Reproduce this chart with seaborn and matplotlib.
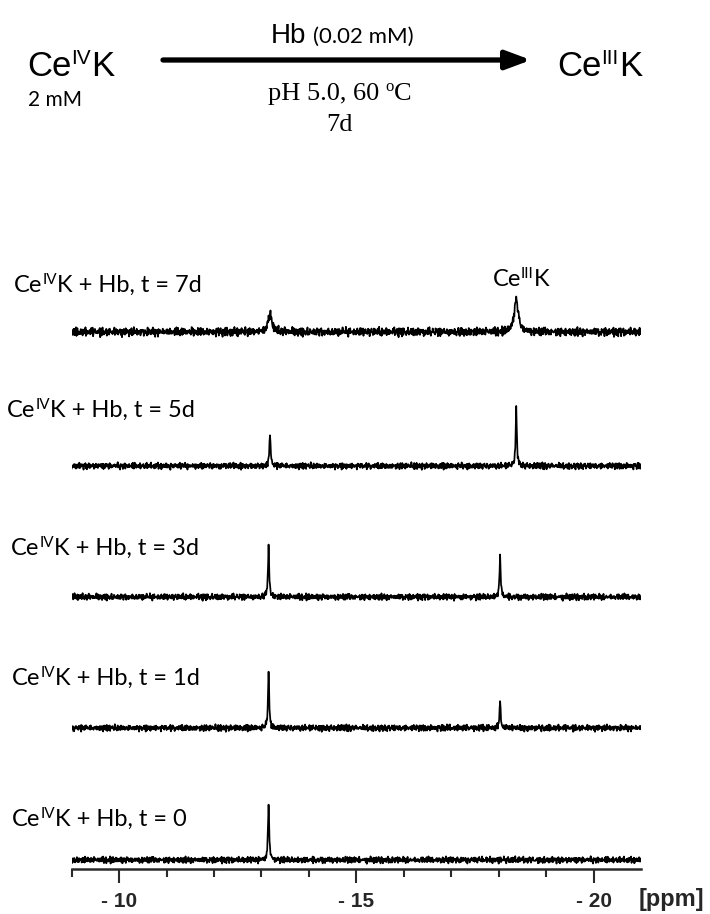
import numpy as np
import pandas as pd
import matplotlib
matplotlib.use("Agg")
import matplotlib.pyplot as plt
import seaborn as sns
from matplotlib.ticker import FixedLocator
from matplotlib.patches import FancyArrowPatch, ArrowStyle

# ---------------- data ----------------
trace_times = ["0", "1d", "3d", "5d", "7d"]
ce4_ppm = [-13.15, -13.15, -13.15, -13.18, -13.18]     # Ce(IV)K signal
ce4_height = [56, 56, 51, 34, 17]
ce3_ppm = [-18.03, -18.03, -18.03, -18.37, -18.37]     # Ce(III)K signal
ce3_height = [0, 26, 40, 58, 33]
line_halfwidth = [0.015, 0.015, 0.015, 0.015, 0.05]
noise_level = [2.5, 2.5, 2.5, 2.5, 3.4]
noise_a = [0.3, -0.8, 0.5, 0.1, -0.4, 0.9, -0.2, -0.7, 0.6, 0.0, -0.5, 0.8, -0.9, 0.2, 0.4,
           -0.3, 0.7, -0.6, 0.1, -0.1, 0.9, -0.8, 0.3, 0.5, -0.4, -0.2, 0.6, -0.9, 0.8, 0.0,
           -0.5, 0.2, 0.7, -0.7, 0.4, -0.3, 0.1, 0.9, -0.6, -0.1, 0.5, -0.8, 0.3, 0.6, -0.4,
           0.2, -0.9, 0.7, 0.0, -0.2, 0.8, -0.5, 0.4, -0.7, 0.1, 0.6, -0.3, 0.9, -0.6, 0.2, -0.1]
noise_b = [0.5, -0.2, -0.6, 0.8, 0.1, -0.9, 0.4, 0.3, -0.5, 0.7, -0.1, -0.8, 0.6, 0.2, -0.4,
           0.9, -0.7, 0.0, 0.3, -0.3, 0.8, -0.6, 0.5, -0.2, 0.1, -0.9, 0.7, 0.4, -0.5, 0.2,
           -0.8, 0.6, 0.0, -0.4, 0.9, -0.1, 0.3, -0.7, 0.5, 0.1, -0.6, 0.8, -0.3, 0.2, -0.9,
           0.4, 0.6, -0.2, -0.5, 0.7, 0.0, -0.8, 0.3]
ppm_start, ppm_stop, ppm_step = -9.0, -21.0, 0.01
major_ticks = [-10, -15, -20]
major_tick_labels = ["- 10", "- 15", "- 20"]
minor_ticks = [-9, -11, -12, -13, -14, -16, -17, -18, -19]

# ---------------- layout ----------------
W, H = 710, 914
stack_offset = [8.5, 140.5, 271.5, 402.5, 536.5]

sns.set_theme(style="white")
plt.rcParams["font.family"] = ["Lato", "DejaVu Sans"]

fig = plt.figure(figsize=(W / 100, H / 100), dpi=100)
ax_bottom_px, ax_top_px = 868.5, 250
ax = fig.add_axes([71.7 / W, (H - ax_bottom_px) / H, (641 - 71.7) / W, (ax_bottom_px - ax_top_px) / H])

ppm = np.round(np.arange(ppm_start, ppm_stop - ppm_step / 2, -ppm_step), 4)
la, lb = len(noise_a), len(noise_b)
rows = []
for k, t in enumerate(trace_times):
    idx = np.arange(len(ppm))
    nz = (np.array(noise_a)[(idx + 7 * k) % la] + 0.7 * np.array(noise_b)[(2 * idx + 11 * k) % lb]) * noise_level[k]
    hw = line_halfwidth[k]
    sig = ce4_height[k] / (1 + ((ppm - ce4_ppm[k]) / hw) ** 2)
    sig = sig + ce3_height[k] / (1 + ((ppm - ce3_ppm[k]) / hw) ** 2)
    y = stack_offset[k] + nz + sig
    rows.append(pd.DataFrame({"ppm": ppm, "y": y, "trace": t}))
df = pd.concat(rows, ignore_index=True)

sns.lineplot(data=df, x="ppm", y="y", units="trace", estimator=None, sort=False,
             color="black", lw=1.25, ax=ax)

ax.set_xlim(ppm_start, ppm_stop)
ax.set_ylim(0, ax_bottom_px - ax_top_px)
ax.set_xlabel("")
ax.set_ylabel("")
ax.set_yticks([])
for s in ["left", "right", "top"]:
    ax.spines[s].set_visible(False)
ax.spines["bottom"].set_linewidth(1.8)
ax.spines["bottom"].set_color("#2a2a2a")
ax.set_xticks(major_ticks)
ax.set_xticklabels(major_tick_labels)
ax.xaxis.set_minor_locator(FixedLocator(minor_ticks))
ax.tick_params(axis="x", which="major", direction="out", length=10, width=1.5, color="#2a2a2a",
               pad=7, labelsize=15, bottom=True)
ax.tick_params(axis="x", which="minor", direction="out", length=6, width=1.5, color="#2a2a2a", bottom=True)
for lab in ax.get_xticklabels():
    lab.set_fontfamily("Liberation Sans")
    lab.set_fontweight("bold")
ax.patch.set_alpha(0)

# ---------------- text helpers ----------------
renderer = fig.canvas.get_renderer()


def rich(x, y, parts, ha="left"):
    texts = []
    cx = x
    for p in parts:
        s, size, fam = p[0], p[1], p[2]
        rise = p[3] if len(p) > 3 else 0
        gap = p[4] if len(p) > 4 else 0
        wt = p[5] if len(p) > 5 else "normal"
        t = fig.text(cx / W, 1 - (y - rise) / H, s, fontsize=size, family=fam,
                     fontweight=wt, ha="left", va="baseline", color="black")
        w = t.get_window_extent(renderer=renderer).width
        texts.append(t)
        cx += w + gap
    if ha == "center":
        shift = (cx - x) / 2
        for t in texts:
            px_, py_ = t.get_position()
            t.set_position((px_ - shift / W, py_))
    return texts


LS = "Liberation Sans"
SER = "Liberation Serif"
LA = "Lato"

# reaction scheme
rich(27, 76, [("Ce", 25, LS), ("IV", 15, LS, 12), ("K", 25, LS)])
rich(557, 76, [("Ce", 25, LS), ("III", 15, LS, 12), ("K", 25, LS)])
rich(55, 106, [("2 mM", 15, LA)], ha="center")
rich(342, 43, [("Hb", 20, LS, 0, 7), ("(0.02 mM)", 16, LA)], ha="center")
rich(340, 100, [("pH 5.0, 60", 19, SER, 0, 6), ("o", 12, SER, 9), ("C", 19, SER)], ha="center")
rich(340, 131, [("7d", 19, SER)], ha="center")
arrow = FancyArrowPatch((163 / W, 1 - 60 / H), (531 / W, 1 - 60 / H), transform=fig.transFigure,
                        arrowstyle=ArrowStyle("-|>", head_length=0.75, head_width=0.28),
                        mutation_scale=20, lw=3.8, color="black", shrinkA=0, shrinkB=0)
fig.add_artist(arrow)

# trace labels
label_left = [12, 12, 11, 7, 14]
label_base = [826, 685, 555, 417, 292]
for k, t in enumerate(trace_times):
    rich(label_left[k], label_base[k],
         [("Ce", 17, LA), ("IV", 11, LA, 8), ("K + Hb, t = " + t, 17, LA)])
rich(521, 286, [("Ce", 17, LA), ("III", 11, LA, 8), ("K", 17, LA)], ha="center")

# axis unit
fig.text(671 / W, 1 - 906 / H, "[ppm]", fontsize=17, family=LS, fontweight="bold",
         ha="center", va="baseline")

fig.savefig("out.png", dpi=100)
